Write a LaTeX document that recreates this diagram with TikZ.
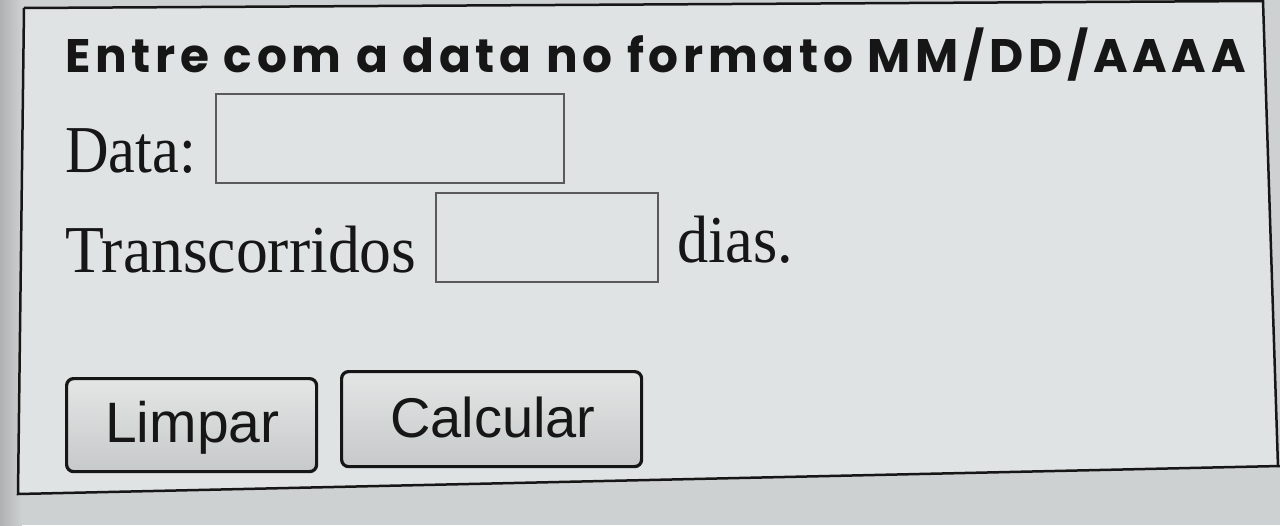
\documentclass[tikz,border=0pt]{standalone}
\usepackage{fontspec}
\setmainfont{Liberation Serif}
\newfontfamily\titlefont{Poppins}
\newfontfamily\btnfont{Liberation Sans}
\definecolor{bgout}{RGB}{206,209,209}
\definecolor{panel}{RGB}{224,227,227}
\definecolor{ink}{RGB}{22,22,22}
\definecolor{boxline}{RGB}{90,90,90}
\definecolor{btnfill}{RGB}{216,219,219}
\tikzset{
  label/.style={anchor=base west, inner sep=0pt, text=ink},
  inputbox/.style={draw=boxline, line width=2.4pt, fill=panel, anchor=north west, inner sep=0pt},
  btn/.style={draw=ink, line width=3.2pt, top color=btnfill!70!white, bottom color=btnfill!92!black, rounded corners=7pt, anchor=north west, inner sep=0pt},
}
\begin{document}
\begin{tikzpicture}[x=1pt,y=-1pt]
\useasboundingbox (0,0) rectangle (1280,525);
\fill[bgout] (0,0) rectangle (1280,525);
\fill[left color=bgout!85!black, right color=bgout] (0,0) rectangle (22,525);
\fill[panel] (24,8) -- (1263,1) -- (1278,467) -- (18,494) -- cycle;
\draw[ink, line width=2.5pt] (24,8) -- (1263,1) -- (1278,467);
\draw[ink, line width=2.5pt] (24,8) -- (18,494) -- (1280,466);
\node[label, font={\titlefont\bfseries\fontsize{47}{50}\selectfont}] (title) at (65,72)
  {\addfontfeatures{LetterSpace=10}Entre com a data no formato MM/DD/AAAA};
\node[label, font=\fontsize{67}{70}\selectfont] (data) at (65,172) {\scalebox{0.9}[1]{Data:}};
\node[inputbox, minimum width=348pt, minimum height=89pt] (databox) at (215,93) {};
\node[label, font=\fontsize{67}{70}\selectfont] (trans) at (65,272) {\scalebox{0.95}[1]{Transcorridos}};
\node[inputbox, minimum width=222pt, minimum height=89pt] (transbox) at (435,192) {};
\node[label, font=\fontsize{67}{70}\selectfont] (dias) at (677,262) {\scalebox{0.93}[1]{dias.}};
\node[btn, minimum width=250pt, minimum height=93pt] (limpar) at (65,377) {};
\node[label, font={\btnfont\fontsize{57}{60}\selectfont}] (limpartxt) at (105,442) {Limpar};
\node[btn, minimum width=300pt, minimum height=95pt] (calcular) at (340,370) {};
\node[label, font={\btnfont\fontsize{56}{60}\selectfont}] (calctxt) at (390,437) {Calcular};
\end{tikzpicture}
\end{document}
